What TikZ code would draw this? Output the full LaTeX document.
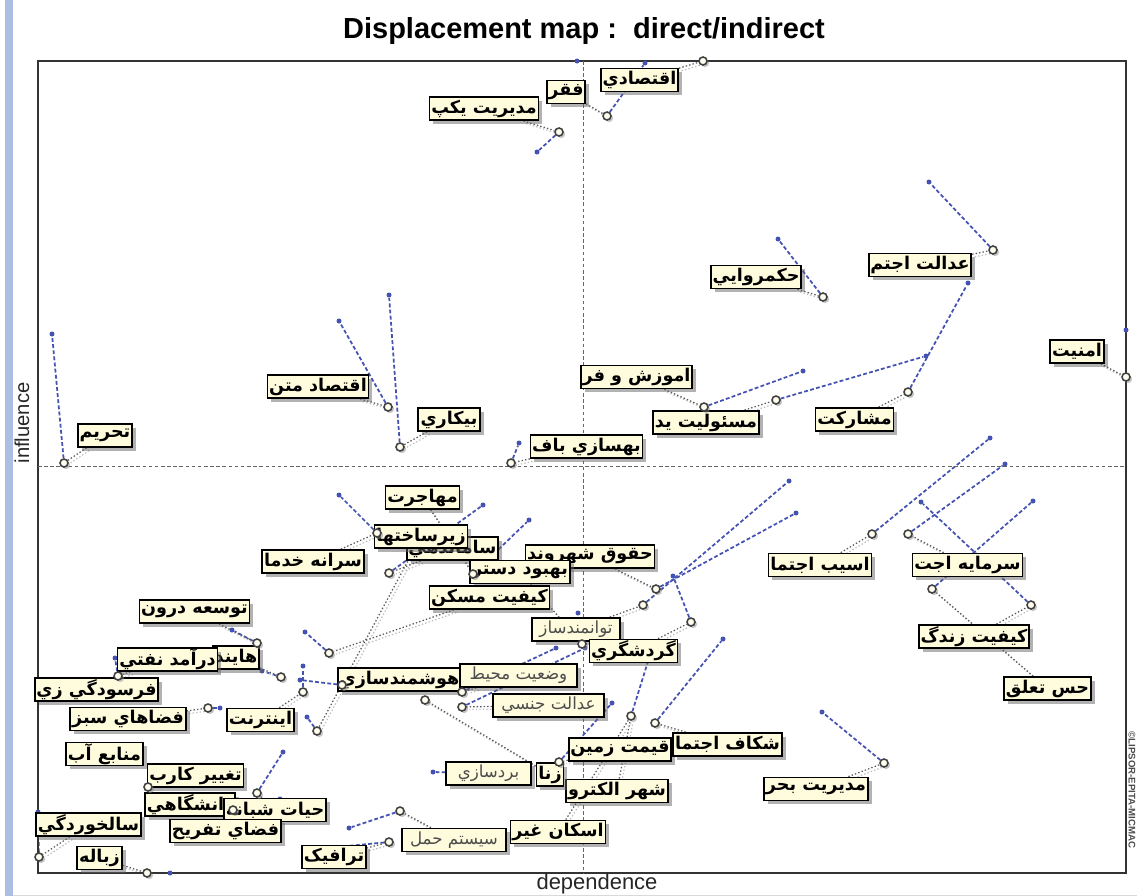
\documentclass[tikz,border=0pt]{standalone}
\usepackage{fontspec}
\newfontfamily\persianfont[Script=Arabic]{DejaVu Sans}
\newfontfamily\labelfont{Liberation Sans}
\TeXXeTstate=1
\usetikzlibrary{shadows}
\pgfdeclarelayer{back}
\pgfsetlayers{back,main}
\definecolor{cream}{RGB}{255,251,221}
\definecolor{indblue}{RGB}{68,82,178}
\definecolor{winband}{RGB}{172,190,225}
\newcommand\fatext[1]{\beginR#1\endR}
\tikzset{
  lbl/.style={draw=black, line width=1pt, fill=cream, minimum width=#1*0.02cm,
    minimum height=0.46cm, inner xsep=1pt, inner ysep=0pt, text=black,
    font=\persianfont\bfseries\fontsize{10}{11}\selectfont,
    drop shadow={shadow xshift=2.2pt, shadow yshift=-2.2pt, fill=black!60}},
  lbllight/.style={lbl=#1, font=\persianfont\fontsize{9.5}{11}\selectfont, text=black!70},
  ptmark/.style={circle, draw=black!75, fill=cream!50!white, line width=0.9pt,
    minimum size=0.16cm, inner sep=0pt,
    drop shadow={shadow xshift=1.2pt, shadow yshift=-1.2pt, fill=black!45}},
  idot/.style={circle, fill=indblue, minimum size=0.1cm, inner sep=0pt},
  ind/.style={indblue, line width=1pt, dash pattern=on 2.2pt off 1.3pt},
  lead/.style={black!65, line width=0.7pt, dash pattern=on 0.8pt off 1.2pt,
    preaction={draw, black!25, line width=0.7pt, dash pattern=on 0.8pt off 1.2pt,
      transform canvas={xshift=1.5pt, yshift=-1.5pt}}},
  cross/.style={black!60, line width=0.5pt, dash pattern=on 2pt off 1.5pt}
}
\begin{document}
\begin{tikzpicture}[x=0.02cm, y=-0.02cm]
\useasboundingbox (0,0) rectangle (1137,896);
\fill[winband] (5,0) rectangle (13,896);
\draw[black!15] (13,895) -- (1137,895);
% frame and axes
\draw[black!80, line width=1pt] (38,61) rectangle (1126,873);
\coordinate (xt) at (583,61); \coordinate (xb) at (583,873);
\coordinate (yl) at (38,466); \coordinate (yr) at (1126,466);
\draw[cross] (xt) -- (xb);
\draw[cross] (yl) -- (yr);
\node[font=\labelfont\bfseries\fontsize{16.5}{18}\selectfont] (title) at (584,31) {Displacement map :\ \ direct/indirect};
\node[font=\labelfont\fontsize{12.5}{14}\selectfont, text=black!85] (xlab) at (597,884) {dependence};
\node[font=\labelfont\fontsize{11.5}{13}\selectfont, text=black!85, rotate=90] (ylab) at (22,423) {influence};
\node[font=\labelfont\bfseries\fontsize{5.5}{6}\selectfont, text=black!70, rotate=-90] (mark) at (1132,790) {©LIPSOR-EPITA-MICMAC};

% indirect positions
\node[idot] (b1) at (577,61) {};
\node[idot] (b2) at (645,63) {};
\node[idot] (b3) at (537,152) {};
\node[idot] (b4) at (929,182) {};
\node[idot] (b5) at (778,239) {};
\node[idot] (b6) at (1126,330) {};
\node[idot] (b7) at (803,371) {};
\node[idot] (b8) at (926,356) {};
\node[idot] (b9) at (968,283) {};
\node[idot] (b10) at (339,321) {};
\node[idot] (b11) at (389,295) {};
\node[idot] (b12) at (52,334) {};
\node[idot] (b13) at (519,443) {};
\node[idot] (b14) at (529,520) {};
\node[idot] (b15) at (307,717) {};
\node[idot] (b16) at (483,505) {};
\node[idot] (b17) at (339,495) {};
\node[idot] (b18) at (796,513) {};
\node[idot] (b19) at (578,613) {};
\node[idot] (b20) at (305,632) {};
\node[idot] (b21) at (789,481) {};
\node[idot] (b22) at (673,576) {};
\node[idot] (b23) at (300,680) {};
\node[idot] (b24) at (556,648) {};
\node[idot] (b25) at (585,648) {};
\node[idot] (b26) at (232,630) {};
\node[idot] (b27) at (262,671) {};
\node[idot] (b28) at (115,658) {};
\node[idot] (b30) at (220,708) {};
\node[idot] (b31) at (303,666) {};
\node[idot] (b34) at (280,799) {};
\node[idot] (b35) at (283,752) {};
\node[idot] (b37) at (38,812) {};
\node[idot] (b38) at (170,873) {};
\node[idot] (b39) at (306,850) {};
\node[idot] (b40) at (349,828) {};
\node[idot] (b42) at (650,655) {};
\node[idot] (b43) at (612,703) {};
\node[idot] (b45) at (433,772) {};
\node[idot] (b46) at (723,639) {};
\node[idot] (b47) at (822,712) {};
\node[idot] (b48) at (990,438) {};
\node[idot] (b49) at (1005,464) {};
\node[idot] (b50) at (921,502) {};
\node[idot] (b51) at (1033,501) {};

% labels
\node[lbl=77] (l1) at (639.5,80) {\fatext{اقتصادي}};
\node[lbl=32] (l2) at (566,92) {\fatext{فقر}};
\node[lbl=106] (l3) at (484,108.5) {\fatext{مديريت يكپ}};
\node[lbl=96] (l4) at (920,265) {\fatext{عدالت اجتم}};
\node[lbl=88] (l5) at (756,277) {\fatext{حكمروايي}};
\node[lbl=52] (l6) at (1077,351.5) {\fatext{امنيت}};
\node[lbl=103] (l7) at (636.5,377) {\fatext{اموزش و فر}};
\node[lbl=94] (l8) at (706,422.5) {\fatext{مسئوليت يد}};
\node[lbl=75] (l9) at (854.5,419.5) {\fatext{مشاركت}};
\node[lbl=94] (l10) at (318,386.5) {\fatext{اقتصاد متن}};
\node[lbl=62] (l11) at (449,419.5) {\fatext{بيكاري}};
\node[lbl=50] (l12) at (105,435.5) {\fatext{تحريم}};
\node[lbl=107] (l13) at (586.5,446.5) {\fatext{بهسازي باف}};
\node[lbl=73] (l14) at (422.5,497.5) {\fatext{مهاجرت}};
\node[lbl=91] (l16) at (452.5,548.5) {\fatext{ساماندهي}};
\node[lbl=90] (l15) at (421,536.5) {\fatext{زيرساختها}};
\node[lbl=96] (l17) at (313,561.5) {\fatext{سرانه خدما}};
\node[lbl=116] (l18) at (590,556.5) {\fatext{حقوق شهروند}};
\node[lbl=92] (l19) at (520,572) {\fatext{بهبود دستر}};
\node[lbl=105] (l20) at (489.5,597.5) {\fatext{كيفيت مسكن}};
\node[lbllight=88] (l21) at (576,629.5) {\fatext{توانمندساز}};
\node[lbl=87] (l22) at (633.5,651) {\fatext{گردشگري}};
\node[lbl=111] (l23) at (399.5,679.5) {\fatext{هوشمندسازي}};
\node[lbllight=117] (l24) at (518.5,675.5) {\fatext{وضعيت محيط}};
\node[lbllight=111] (l25) at (548.5,705.5) {\fatext{عدالت جنسي}};
\node[lbl=105] (l26) at (194.5,611.5) {\fatext{توسعه درون}};
\node[lbl=36] (l27) at (236,657.5) {\fatext{هايند}};
\node[lbl=89] (l28) at (167.5,659.5) {\fatext{درآمد نفتي}};
\node[lbl=115] (l29) at (96.5,689.5) {\fatext{فرسودگي زي}};
\node[lbl=110] (l30) at (128,719) {\fatext{فضاهاي سبز}};
\node[lbl=63] (l31) at (260.5,720) {\fatext{اينترنت}};
\node[lbl=75] (l32) at (104.5,754) {\fatext{منابع آب}};
\node[lbl=95] (l33) at (195.5,775.5) {\fatext{تغيير كارب}};
\node[lbl=80] (l34) at (190,804.5) {\fatext{دانشگاهي}};
\node[lbl=96] (l35) at (275,810) {\fatext{حيات شبانه}};
\node[lbl=105] (l36) at (225.5,831) {\fatext{فضاي تفريح}};
\node[lbl=99] (l37) at (88.5,824.5) {\fatext{سالخوردگي}};
\node[lbl=45] (l38) at (99.5,858) {\fatext{زباله}};
\node[lbl=58] (l39) at (334,857) {\fatext{ترافيک}};
\node[lbllight=104] (l40) at (454,840) {\fatext{سيستم حمل}};
\node[lbl=92] (l41) at (558,832) {\fatext{اسكان غير}};
\node[lbl=100] (l42) at (617,791) {\fatext{شهر الكترو}};
\node[lbl=94] (l43) at (620,749.5) {\fatext{قيمت زمين}};
\node[lbl=26] (l44) at (550,774.5) {\fatext{زنا}};
\node[lbllight=85] (l45) at (488.5,773.5) {\fatext{بردسازي}};
\node[lbl=103] (l46) at (727.5,744.5) {\fatext{شكاف اجتما}};
\node[lbl=102] (l47) at (816,789) {\fatext{مديريت بحر}};
\node[lbl=98] (l48) at (820,565) {\fatext{اسيب اجتما}};
\node[lbl=107] (l49) at (967.5,565) {\fatext{سرمايه اجت}};
\node[lbl=98] (l50) at (974,636.5) {\fatext{كيفيت زندگ}};
\node[lbl=81] (l51) at (1047.5,688.5) {\fatext{حس تعلق}};

% direct positions
\node[ptmark] (p1) at (703,61) {};
\node[ptmark] (p2) at (607,116) {};
\node[ptmark] (p3) at (559,132) {};
\node[ptmark] (p4) at (993,250) {};
\node[ptmark] (p5) at (823,297) {};
\node[ptmark] (p6) at (1126,377) {};
\node[ptmark] (p7) at (704,407) {};
\node[ptmark] (p8) at (776,400) {};
\node[ptmark] (p9) at (908,392) {};
\node[ptmark] (p10) at (388,407) {};
\node[ptmark] (p11) at (400,447) {};
\node[ptmark] (p12) at (64,463) {};
\node[ptmark] (p13) at (511,463) {};
\node[ptmark] (p14) at (473,574) {};
\node[ptmark] (p15) at (317,731) {};
\node[ptmark] (p16) at (389,573) {};
\node[ptmark] (p17) at (377,533) {};
\node[ptmark] (p18) at (656,589) {};
\node[ptmark] (p19) at (582,644) {};
\node[ptmark] (p20) at (329,653) {};
\node[ptmark] (p21) at (643,605) {};
\node[ptmark] (p22) at (691,622) {};
\node[ptmark] (p23) at (342,685) {};
\node[ptmark] (p24) at (462,692) {};
\node[ptmark] (p25) at (462,707) {};
\node[ptmark] (p26) at (257,643) {};
\node[ptmark] (p27) at (281,677) {};
\node[ptmark] (p28) at (118,676) {};
\node[ptmark] (p30) at (208,708) {};
\node[ptmark] (p31) at (303,692) {};
\node[ptmark] (p33) at (148,787) {};
\node[ptmark] (p34) at (233,810) {};
\node[ptmark] (p35) at (257,793) {};
\node[ptmark] (p37) at (39,857) {};
\node[ptmark] (p38) at (147,873) {};
\node[ptmark] (p39) at (389,842) {};
\node[ptmark] (p40) at (400,811) {};
\node[ptmark] (p42) at (631,716) {};
\node[ptmark] (p43) at (559,762) {};
\node[ptmark] (p44) at (425,700) {};
\coordinate (p45) at (470,773);
\node[ptmark] (p46) at (655,723) {};
\node[ptmark] (p47) at (884,763) {};
\node[ptmark] (p48) at (872,534) {};
\node[ptmark] (p49) at (908,534) {};
\node[ptmark] (p50) at (1031,605) {};
\node[ptmark] (p51) at (932,589) {};

% shifts and leaders, under the boxes
\begin{pgfonlayer}{back}
\foreach \i in {1,...,28,30,31,34,35,37,38,39,40,42,43,45,46,47,48,49,50,51}
  \draw[ind] (p\i) -- (b\i);
\foreach \i in {1,...,28,30,31,34,35,37,38,39,40,42,43,44,46,47,48,49,50,51}
  \draw[lead] (l\i) -- (p\i);
\draw[lead] (l41) -- (p42);
\end{pgfonlayer}
\end{tikzpicture}
\end{document}
